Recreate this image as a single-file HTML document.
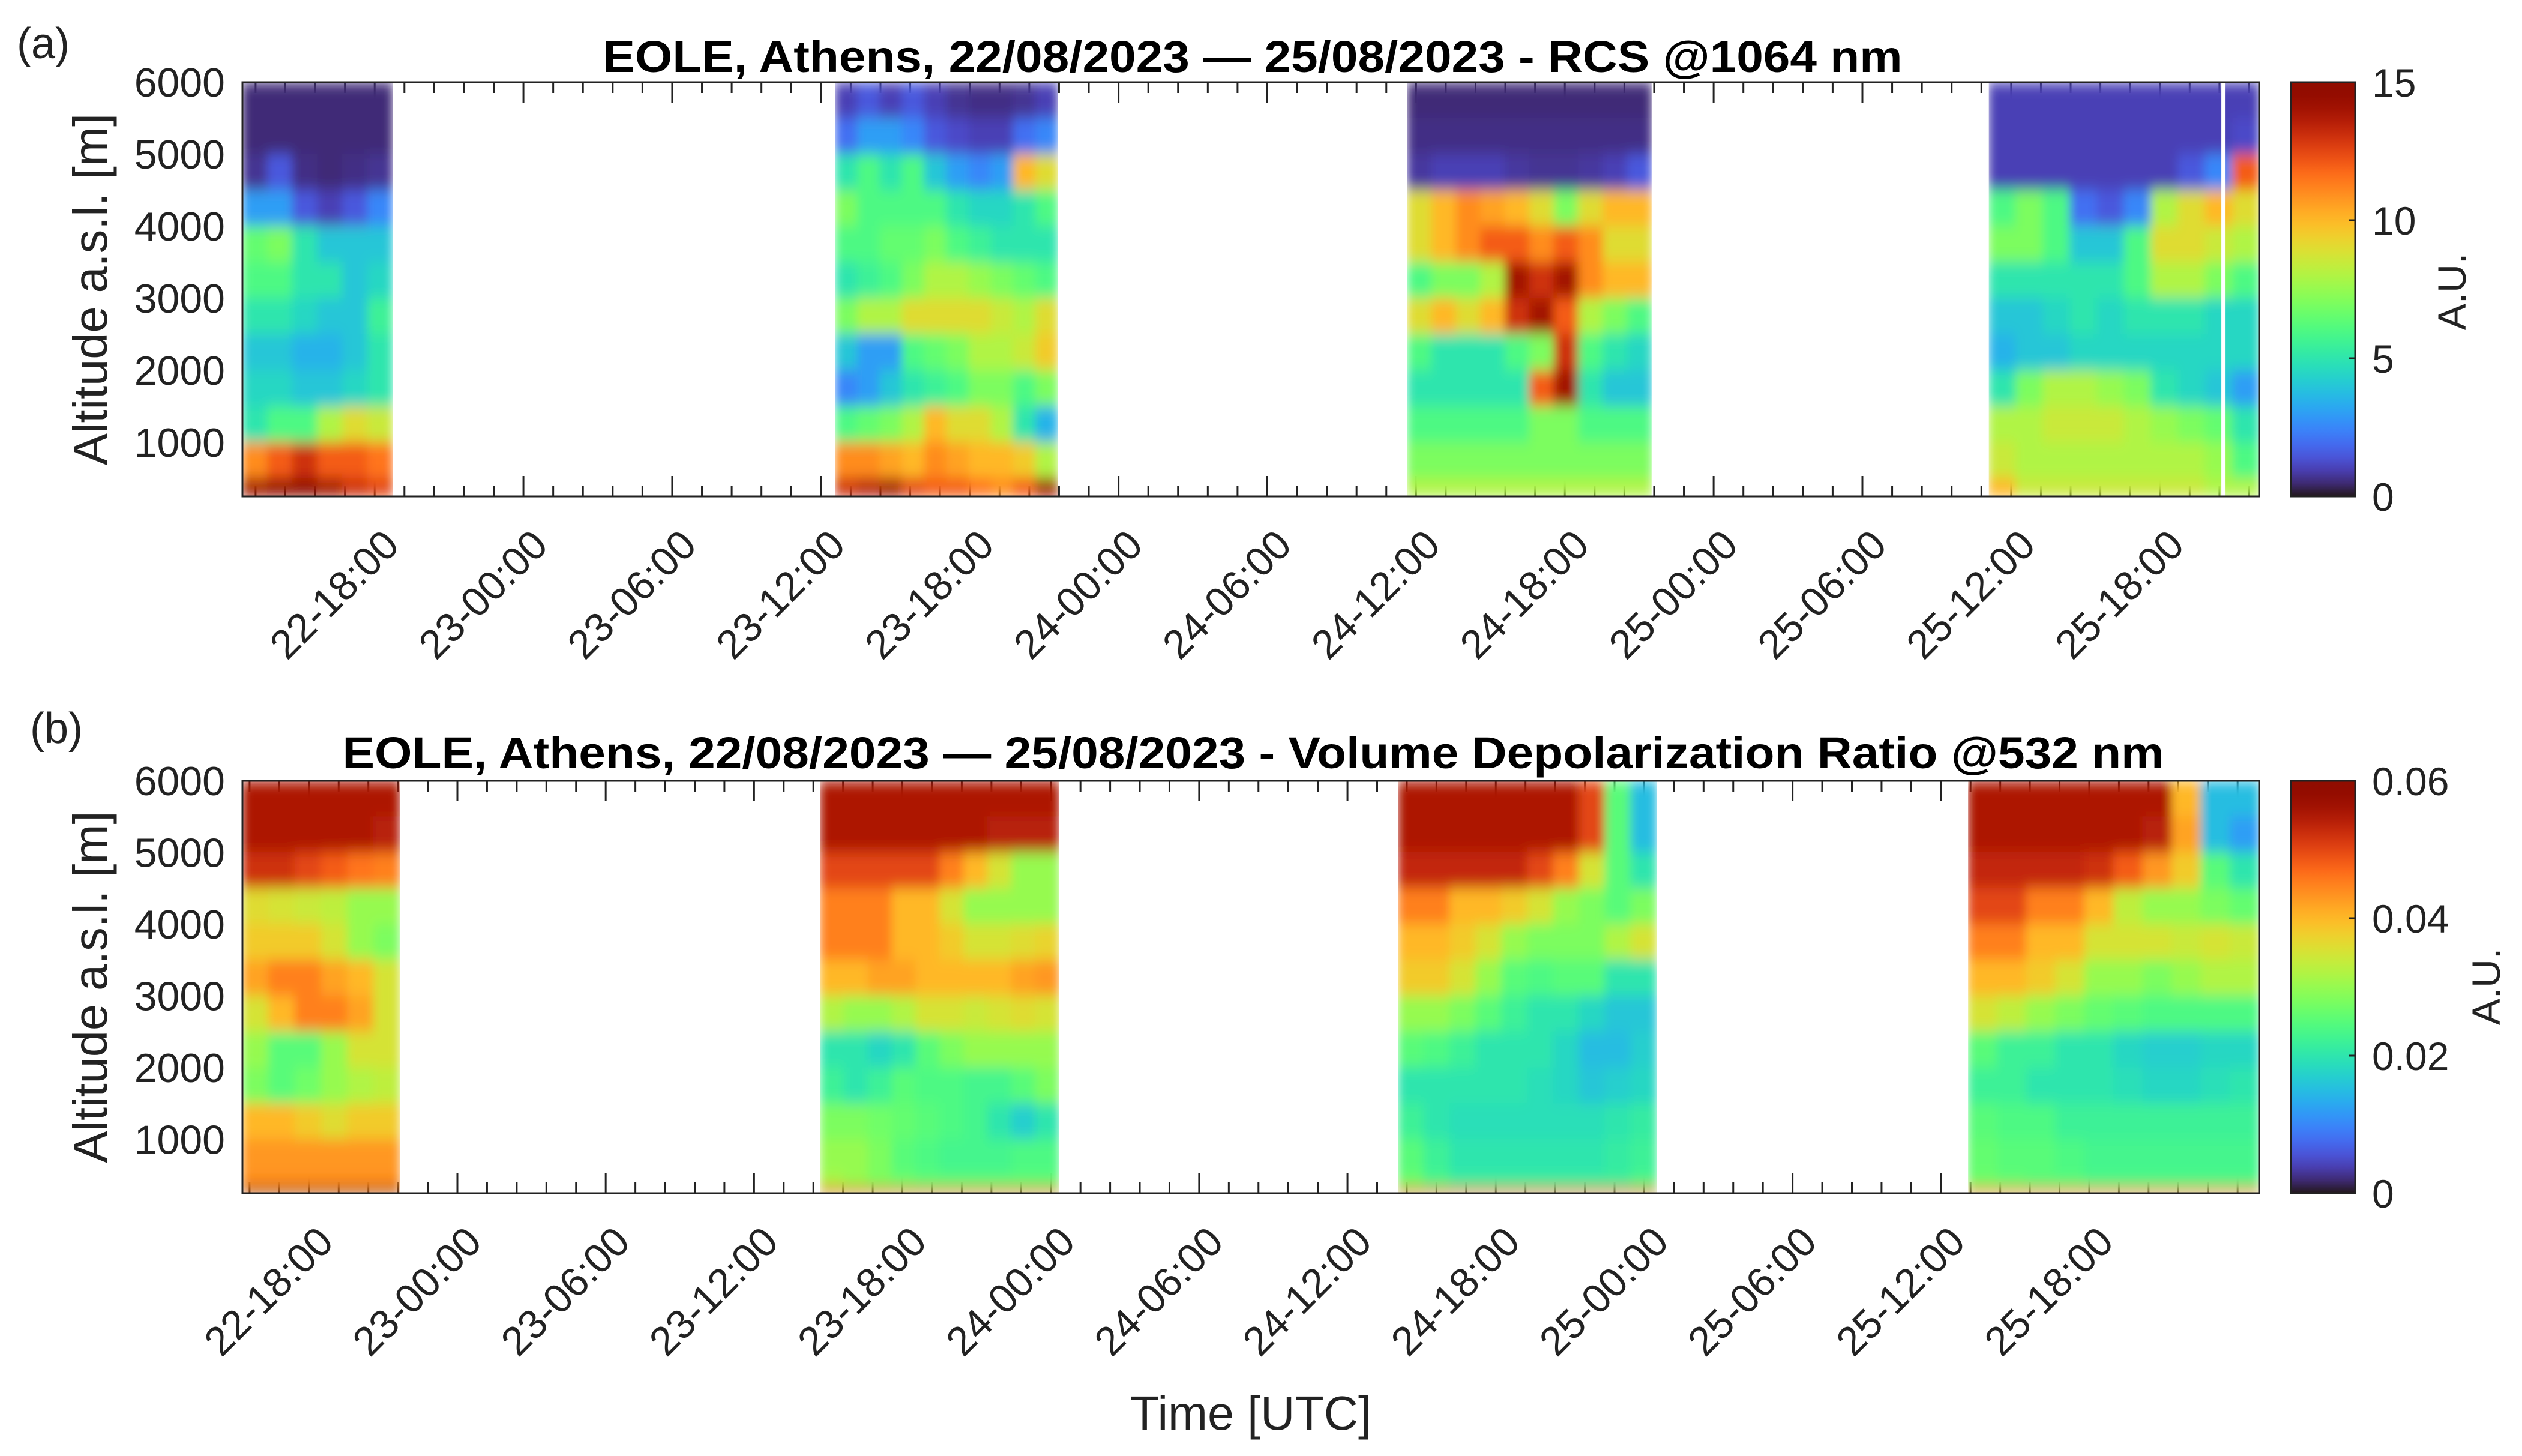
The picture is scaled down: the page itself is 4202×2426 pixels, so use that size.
<!DOCTYPE html>
<html><head><meta charset="utf-8"><style>
html,body{margin:0;padding:0;background:#fff}
svg{display:block;font-family:"Liberation Sans",Arial,sans-serif}
</style></head><body>
<svg id="chart" width="4202" height="2426" viewBox="0 0 4202 2426" xmlns="http://www.w3.org/2000/svg">
<defs>
<filter id="blr" x="-5%" y="-5%" width="110%" height="110%"><feGaussianBlur stdDeviation="8 12" edgeMode="duplicate"/></filter>
</defs>
<rect width="4202" height="2426" fill="#fff"/>
<text x="28" y="97" font-size="72" fill="#222">(a)</text>
<text x="50" y="1238" font-size="72" fill="#222">(b)</text>
<text x="2087" y="120" font-size="74" font-weight="bold" text-anchor="middle" textLength="2165" lengthAdjust="spacingAndGlyphs">EOLE, Athens, 22/08/2023 — 25/08/2023 - RCS @1064 nm</text>
<text x="2088" y="1280" font-size="74" font-weight="bold" text-anchor="middle" textLength="3035" lengthAdjust="spacingAndGlyphs">EOLE, Athens, 22/08/2023 — 25/08/2023 - Volume Depolarization Ratio @532 nm</text>
<text x="2084" y="2382" font-size="80" fill="#222" text-anchor="middle" textLength="402" lengthAdjust="spacingAndGlyphs">Time [UTC]</text>
<g id="root"></g>
</svg>
<script>
// ---------- shared data ----------
const altEdges = [6000,5500,5000,4500,4000,3500,3000,2500,2000,1500,1000,500,330,250];
const yTicks = [1000,2000,3000,4000,5000,6000];
const xTickHours = [18,24,30,36,42,48,54,60,66,72,78,84,90];
const xTickLabels = ["22-18:00","23-00:00","23-06:00","23-12:00","23-18:00","24-00:00","24-06:00","24-12:00","24-18:00","25-00:00","25-06:00","25-12:00","25-18:00"];

// ---------- panel a (RCS 1064) ----------
const aTimeRange = [12.67, 94.0];
const aSegTimes = [[12.67,18.72],[36.58,45.55],[59.65,69.5],[83.1,94.0]];
const aGapHours = [92.55];
const aCbTicks = [0,5,10,15];
const aSeg1 = [
[0.5,0.5,0.5,0.5,0.5,0.5],
[0.5,0.5,0.5,0.5,0.5,0.5],
[0.7,1.5,0.6,0.5,0.6,0.7],
[3,3,1.5,1,1.5,2.5],
[6.5,7,5,4,4,4],
[6,6,5,5,4,4.5],
[5,5,4.5,4,4,5.5],
[4,4,3.5,3.5,4,5],
[4.5,4.5,4,4,4.5,5],
[5,6,6,8,9,8.5],
[11,12,13,12,12,11.5],
[14,14.5,15,14,13,12.5],
[14,14.5,15,14,13,12.5]];
const aSeg2 = [
[1,1.5,1,1.5,1,0.7,0.6,0.6,0.7,1],
[2,3,3,2.5,1.5,1.2,1,1,2,2.5],
[5,6,5,6,4,3,2.5,3,10,9],
[7,6,6,6,6,5,4.5,4.5,5,6],
[6,6,6.5,6.5,7,6,5.5,5,5,5],
[5,5.5,6,7,8,8,7.5,7,6.5,6],
[7,8,8,9,9,9,9,8.5,8,9],
[4,3,3,6,6.5,7,8,8,8.5,9.5],
[2.5,3,4,5,5.5,6,7,7,6,7],
[6,6.5,7,8,10,9,9,8,5,3.5],
[11,11,10.5,10,11,10.5,10,10,9.5,8],
[13,13.5,14,12.5,12,12,11.5,11,12,14],
[13,13.5,14,12.5,12,12,11.5,11,12,14]];
const aSeg3 = [
[0.5,0.5,0.5,0.5,0.5,0.5,0.5,0.5,0.5,0.5],
[0.6,0.6,0.6,0.6,0.6,0.6,0.6,0.6,0.6,0.6],
[0.8,1,1,1,0.8,0.7,0.7,0.8,1,1.5],
[9,10,11,10.5,10,9,7,9,10,10],
[9,10,11,12,12,11,12,11,9,9],
[6,7,7,8,14,13,14,11,10,10],
[9,10,9,10,13,14,12,8,7,6],
[6,5,5,5,6,7,13,6,5,4.5],
[5,5,5,5,5,12,14,5,4,4],
[6,6,6,6,6,7,7,6,6,6],
[7,7,7,7,7,7,7,7,7,7],
[8,8,8,8,8,8,8,8,8,8],
[8,8,8,8,8,8,8,8,8,8]];
const aSeg4 = [
[1,1,1,1,1,1,1,1,1,1],
[1,1,1,1,1,1,1,1,1,1.2],
[1,1,1,1,1,1,1,1.5,2.5,12],
[6,7,6,2,1.5,2.5,8,9,10,9],
[7,7,6,4,4,6,9,9,8.5,8],
[5,5,5,5,5,6,8,8,7,6],
[4,4,4.5,5,4.5,5,5,5,4.5,4.5],
[3.5,4,4,4.5,4.5,4.5,4.5,4.5,4.5,4.5],
[5,7,8,8,7.5,7,5,4.5,4,3],
[8,8,8.5,8.5,8.5,8,7.5,7,6.5,5],
[8.5,8,8,8,8,8,8,8,7.5,6],
[10,8.5,8.5,8.5,8.5,8.5,8.5,8.5,8,8],
[10,8.5,8.5,8.5,8.5,8.5,8.5,8.5,8,8]];

// ---------- panel b (VDR 532) ----------
const bTimeRange = [15.31, 96.87];
const bSegTimes = [[15.31,21.67],[38.68,48.34],[62.05,72.5],[85.1,96.87]];
const bCbTicks = [0,0.02,0.04,0.06];
const bCbLabels = ["0","0.02","0.04","0.06"];
const bSeg1 = [
[0.055,0.055,0.055,0.055,0.055,0.055],
[0.055,0.055,0.055,0.055,0.055,0.054],
[0.052,0.052,0.05,0.048,0.046,0.045],
[0.036,0.035,0.034,0.033,0.03,0.03],
[0.038,0.038,0.038,0.035,0.03,0.028],
[0.042,0.045,0.045,0.042,0.04,0.035],
[0.035,0.04,0.045,0.045,0.042,0.035],
[0.03,0.025,0.025,0.03,0.035,0.035],
[0.028,0.025,0.027,0.03,0.032,0.033],
[0.04,0.04,0.038,0.036,0.038,0.038],
[0.043,0.043,0.043,0.043,0.043,0.043],
[0.044,0.044,0.044,0.044,0.044,0.044],
[0.058,0.058,0.058,0.058,0.058,0.058]];
const bSeg2 = [
[0.055,0.055,0.055,0.055,0.055,0.055,0.055,0.055,0.055,0.055],
[0.055,0.055,0.055,0.055,0.055,0.055,0.055,0.054,0.054,0.054],
[0.05,0.05,0.05,0.05,0.05,0.045,0.04,0.035,0.03,0.03],
[0.045,0.045,0.045,0.04,0.04,0.035,0.03,0.03,0.03,0.03],
[0.045,0.045,0.045,0.04,0.04,0.038,0.035,0.035,0.036,0.037],
[0.04,0.04,0.042,0.042,0.04,0.04,0.04,0.04,0.042,0.043],
[0.032,0.03,0.03,0.032,0.035,0.035,0.034,0.035,0.036,0.035],
[0.02,0.02,0.018,0.02,0.025,0.028,0.03,0.03,0.03,0.03],
[0.022,0.02,0.022,0.025,0.024,0.024,0.023,0.023,0.025,0.028],
[0.028,0.028,0.027,0.026,0.025,0.024,0.023,0.02,0.017,0.02],
[0.03,0.03,0.028,0.025,0.024,0.023,0.023,0.023,0.024,0.024],
[0.032,0.03,0.028,0.027,0.026,0.026,0.026,0.026,0.026,0.026],
[0.05,0.05,0.05,0.05,0.05,0.05,0.05,0.05,0.05,0.05]];
const bSeg3 = [
[0.055,0.055,0.055,0.055,0.055,0.055,0.055,0.05,0.025,0.015],
[0.055,0.055,0.055,0.055,0.055,0.055,0.055,0.05,0.025,0.015],
[0.053,0.053,0.053,0.053,0.053,0.05,0.045,0.035,0.025,0.02],
[0.045,0.045,0.04,0.04,0.038,0.035,0.03,0.028,0.025,0.028],
[0.04,0.04,0.038,0.035,0.03,0.028,0.028,0.028,0.032,0.035],
[0.038,0.038,0.035,0.03,0.025,0.024,0.025,0.025,0.02,0.02],
[0.03,0.03,0.028,0.025,0.022,0.02,0.02,0.018,0.016,0.016],
[0.025,0.024,0.022,0.02,0.02,0.02,0.018,0.015,0.015,0.017],
[0.02,0.02,0.02,0.02,0.02,0.019,0.018,0.016,0.017,0.018],
[0.022,0.02,0.019,0.019,0.019,0.019,0.019,0.019,0.02,0.021],
[0.025,0.022,0.02,0.02,0.02,0.02,0.02,0.02,0.021,0.022],
[0.027,0.024,0.022,0.022,0.022,0.022,0.022,0.022,0.022,0.024],
[0.05,0.05,0.05,0.05,0.05,0.05,0.05,0.05,0.05,0.05]];
const bSeg4 = [
[0.055,0.055,0.055,0.055,0.055,0.055,0.055,0.04,0.015,0.015],
[0.055,0.055,0.055,0.055,0.055,0.055,0.054,0.042,0.015,0.012],
[0.053,0.053,0.053,0.053,0.052,0.048,0.043,0.038,0.025,0.02],
[0.05,0.05,0.045,0.045,0.04,0.033,0.03,0.03,0.028,0.026],
[0.045,0.045,0.04,0.04,0.035,0.035,0.035,0.034,0.035,0.034],
[0.04,0.04,0.038,0.035,0.03,0.03,0.028,0.03,0.032,0.032],
[0.035,0.033,0.03,0.028,0.026,0.025,0.024,0.024,0.024,0.024],
[0.025,0.022,0.022,0.02,0.02,0.018,0.017,0.017,0.018,0.018],
[0.022,0.022,0.02,0.02,0.02,0.019,0.018,0.018,0.019,0.02],
[0.025,0.024,0.024,0.022,0.022,0.022,0.022,0.022,0.022,0.022],
[0.026,0.025,0.025,0.024,0.023,0.023,0.023,0.023,0.023,0.023],
[0.027,0.026,0.025,0.025,0.024,0.024,0.024,0.024,0.024,0.024],
[0.048,0.048,0.048,0.048,0.048,0.048,0.048,0.048,0.048,0.048]];

// ---------- rendering ----------
const NS = "http://www.w3.org/2000/svg";
const root = document.getElementById('root');
function mk(tag, attrs, parent){
  const e = document.createElementNS(NS, tag);
  for (const k in attrs) e.setAttribute(k, attrs[k]);
  (parent||root).appendChild(e);
  return e;
}
function turbo(t){
  t = Math.max(0, Math.min(1, t));
  const r = 0.13572138 + t*(4.61539260 + t*(-42.66032258 + t*(132.13108234 + t*(-152.94239396 + t*59.28637943))));
  const g = 0.09140261 + t*(2.19418839 + t*(4.84296658 + t*(-14.18503333 + t*(4.27729857 + t*2.82956604))));
  const b = 0.10667330 + t*(12.64194608 + t*(-60.58204836 + t*(110.36276771 + t*(-89.90310912 + t*27.34824973))));
  const c = v => Math.round(Math.max(0, Math.min(1, v))*255);
  return 'rgb(' + c(r) + ',' + c(g) + ',' + c(b) + ')';
}

const LEFT = 404, RIGHT = 3764, CBX0 = 3817, CBX1 = 3924;
const ALT_MIN = 250, ALT_MAX = 6000;

function drawPanel(p){
  const xs = h => LEFT + (h - p.tr[0]) / (p.tr[1] - p.tr[0]) * (RIGHT - LEFT);
  const ys = a => p.top + (ALT_MAX - a) / (ALT_MAX - ALT_MIN) * (p.bottom - p.top);
  const g = mk('g', {});
  
  

  for (let h = 18 - 6; h <= p.tr[1]; h += 1.2) {
    const hh = Math.round(h*10)/10;
    if (hh < p.tr[0]) continue;
    const x = xs(hh);
    const major = Math.abs(hh/6 - Math.round(hh/6)) < 1e-6;
    const L = major ? 34 : 18;
    const t1 = mk('line', {x1:x, x2:x, y1:p.top, y2:p.top+L, stroke:'#222', 'stroke-width':3}, g);
    
    
    const t2 = mk('line', {x1:x, x2:x, y1:p.bottom, y2:p.bottom-L, stroke:'#222', 'stroke-width':3}, g);
    
    
  }

  p.segs.forEach((seg, si) => {
    const [t0, t1] = p.segTimes[si];
    const ncol = seg[0].length;
    const clipId = p.id + 'clip' + si;
    const cp = mk('clipPath', {id: clipId}, g);
    mk('rect', {x: xs(t0), y: p.top, width: xs(t1) - xs(t0), height: p.bottom - p.top}, cp);
    const outer = mk('g', {'clip-path': 'url(#' + clipId + ')'}, g);
    
    
    const inner = mk('g', {filter: 'url(#blr)'}, outer);
    for (let r = 0; r < seg.length; r++) {
      const yTop = ys(altEdges[r]), yBot = ys(altEdges[r+1]);
      for (let c = 0; c < ncol; c++) {
        const ta = t0 + (t1 - t0) * c / ncol, tb = t0 + (t1 - t0) * (c+1) / ncol;
        const cell = mk('rect', {x: xs(ta) - 0.5, y: yTop - 0.5, width: xs(tb) - xs(ta) + 1, height: yBot - yTop + 1,
          fill: turbo(seg[r][c] / p.vmax)}, inner);
        
        
      }
    }
  });
  (p.gaps || []).forEach(h => {
    const gl = mk('rect', {x: xs(h) - 3, y: p.top, width: 6, height: p.bottom - p.top, fill: '#fff'}, g);
    
    
  });

  const fr = mk('rect', {x: LEFT, y: p.top, width: RIGHT - LEFT, height: p.bottom - p.top, fill: 'none', stroke: '#222', 'stroke-width': 3}, g);
  
  

  yTicks.forEach(a => {
    const t = mk('text', {x: 375, y: ys(a) + 24, 'font-size': 68, 'text-anchor': 'end', fill: '#222'}, g);
    t.textContent = String(a);
    
    
  });
  const yl = mk('text', {x: 0, y: 0, 'font-size': 80, 'text-anchor': 'middle', fill: '#222',
    transform: 'translate(178,' + ((p.top + p.bottom)/2) + ') rotate(-90)', textLength: 586, lengthAdjust: 'spacingAndGlyphs'}, g);
  yl.textContent = 'Altitude a.s.l. [m]';
  
  

  xTickHours.forEach((h, i) => {
    const x = xs(h) + 44, y = p.bottom + 85;
    const t = mk('text', {x: 0, y: 0, 'font-size': 68, 'text-anchor': 'end', fill: '#222',
      transform: 'translate(' + x + ',' + y + ') rotate(-45)'}, g);
    t.textContent = xTickLabels[i];
    
    
  });

  const gid = p.id + 'cbgrad';
  const lg = mk('linearGradient', {id: gid, x1: 0, y1: 1, x2: 0, y2: 0}, g);
  for (let i = 0; i <= 32; i++) mk('stop', {offset: (i/32), 'stop-color': turbo(i/32)}, lg);
  const cb = mk('rect', {x: CBX0, y: p.top, width: CBX1 - CBX0, height: p.bottom - p.top, fill: 'url(#' + gid + ')', stroke: '#222', 'stroke-width': 3}, g);
  
  
  const cs = v => p.bottom - v / p.vmax * (p.bottom - p.top);
  p.cbTicks.forEach((v, i) => {
    const y = cs(v);
    const tk = mk('line', {x1: CBX1, x2: CBX1 - 10, y1: y, y2: y, stroke: '#222', 'stroke-width': 3}, g);
    
    
    const t = mk('text', {x: 3952, y: y + 24, 'font-size': 66, fill: '#222'}, g);
    t.textContent = p.cbLabels[i];
    
    
  });
  const au = mk('text', {x: 0, y: 0, 'font-size': 66, 'text-anchor': 'middle', fill: '#222',
    transform: 'translate(' + p.auX + ',' + p.auY + ') rotate(-90)'}, g);
  au.textContent = 'A.U.';
  
  
}

drawPanel({id: 'panel-a', top: 137, bottom: 827, tr: aTimeRange, segTimes: aSegTimes,
  segs: [aSeg1, aSeg2, aSeg3, aSeg4], vmax: 15, gaps: aGapHours,
  cbTicks: aCbTicks, cbLabels: aCbTicks.map(String), auX: 4108, auY: 486});
drawPanel({id: 'panel-b', top: 1301, bottom: 1988, tr: bTimeRange, segTimes: bSegTimes,
  segs: [bSeg1, bSeg2, bSeg3, bSeg4], vmax: 0.06, gaps: [],
  cbTicks: bCbTicks, cbLabels: bCbLabels, auX: 4165, auY: 1644});
</script>
</body></html>
